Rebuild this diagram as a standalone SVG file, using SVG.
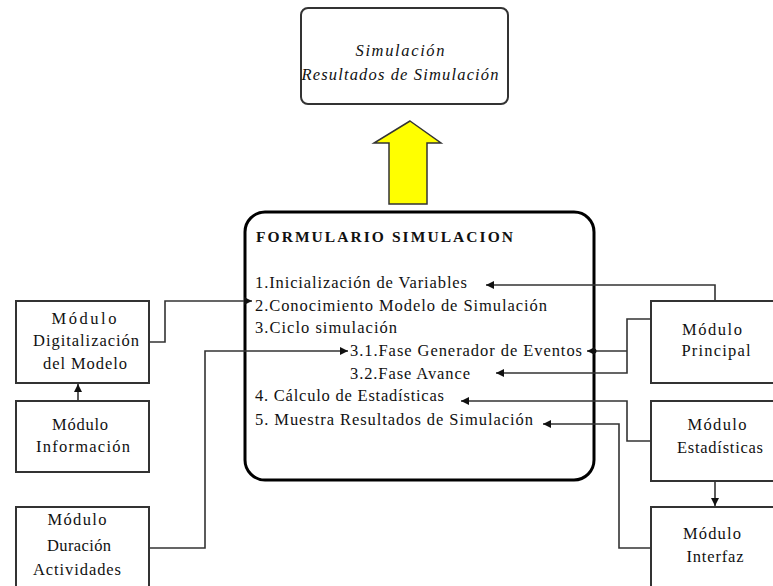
<svg xmlns="http://www.w3.org/2000/svg" width="773" height="586" viewBox="0 0 773 586">
<defs>
<style>
.box{fill:#fff;stroke:#333;stroke-width:2}
.t{font-family:"Liberation Serif","Times New Roman",serif;font-size:16.5px;fill:#111}
.m{text-anchor:middle}
.c{fill:none;stroke:#333;stroke-width:1.6}
</style>
<marker id="ah" viewBox="0 0 10 10" refX="10" refY="5" markerWidth="8" markerHeight="8" markerUnits="userSpaceOnUse" orient="auto">
<path d="M0,0 L10,5 L0,10 Z" fill="#111"/>
</marker>
</defs>
<rect width="773" height="586" fill="#fff"/>

<g id="resultados">
<rect x="301" y="8" width="207" height="96" rx="7" class="box"/>
<text class="t m" x="400" y="56" font-style="italic" textLength="89" lengthAdjust="spacing">Simulación</text>
<text class="t m" x="400" y="80" font-style="italic" textLength="197" lengthAdjust="spacing">Resultados de Simulación</text>
</g>

<g id="flecha">
<polygon points="410,121 441,143 427,143 427,204 389,204 389,143 374,143" fill="#ffff00" stroke="#333" stroke-width="1.5"/>
</g>

<g id="formulario">
<rect x="245" y="212" width="349" height="268" rx="20" fill="#fff" stroke="#000" stroke-width="3"/>
<text class="t" x="256" y="242" font-weight="bold" style="font-size:15.5px" textLength="257" lengthAdjust="spacing">FORMULARIO SIMULACION</text>
<text class="t" x="255" y="288" textLength="212" lengthAdjust="spacing">1.Inicialización de Variables</text>
<text class="t" x="255" y="311" textLength="292" lengthAdjust="spacing">2.Conocimiento Modelo de Simulación</text>
<text class="t" x="255" y="333" textLength="142" lengthAdjust="spacing">3.Ciclo simulación</text>
<text class="t" x="350" y="356" textLength="232" lengthAdjust="spacing">3.1.Fase Generador de Eventos</text>
<text class="t" x="350" y="379" textLength="120" lengthAdjust="spacing">3.2.Fase Avance</text>
<text class="t" x="255" y="401" textLength="189" lengthAdjust="spacing">4. Cálculo de Estadísticas</text>
<text class="t" x="255" y="425" textLength="278" lengthAdjust="spacing">5. Muestra Resultados de Simulación</text>
</g>

<g id="digitalizacion">
<rect x="16" y="301" width="133" height="82" class="box"/>
<text class="t m" x="84" y="324" textLength="65" lengthAdjust="spacing">Módulo</text>
<text class="t m" x="86" y="346" textLength="106" lengthAdjust="spacing">Digitalización</text>
<text class="t m" x="85" y="369" textLength="84" lengthAdjust="spacing">del Modelo</text>
</g>

<g id="informacion">
<rect x="16" y="401" width="133" height="71" class="box"/>
<text class="t m" x="80" y="430" textLength="56" lengthAdjust="spacing">Módulo</text>
<text class="t m" x="83" y="452" textLength="94" lengthAdjust="spacing">Información</text>
</g>

<g id="duracion">
<rect x="16" y="507" width="133" height="100" class="box"/>
<text class="t m" x="77" y="525" textLength="59" lengthAdjust="spacing">Módulo</text>
<text class="t m" x="79" y="551" textLength="64" lengthAdjust="spacing">Duración</text>
<text class="t m" x="77" y="575" textLength="88" lengthAdjust="spacing">Actividades</text>
</g>

<g id="principal">
<rect x="651" y="301" width="130" height="82" class="box"/>
<text class="t m" x="712" y="335" textLength="60" lengthAdjust="spacing">Módulo</text>
<text class="t m" x="716" y="356" textLength="69" lengthAdjust="spacing">Principal</text>
</g>

<g id="estadisticas">
<rect x="651" y="401" width="130" height="80" class="box"/>
<text class="t m" x="717" y="430" textLength="59" lengthAdjust="spacing">Módulo</text>
<text class="t m" x="720" y="453" textLength="86" lengthAdjust="spacing">Estadísticas</text>
</g>

<g id="interfaz">
<rect x="651" y="507" width="130" height="100" class="box"/>
<text class="t m" x="712" y="539" textLength="58" lengthAdjust="spacing">Módulo</text>
<text class="t m" x="715" y="562" textLength="57" lengthAdjust="spacing">Interfaz</text>
</g>

<g id="connectors">
<polyline class="c" points="149,342 165,342 165,301 252,301" marker-end="url(#ah)"/>
<polyline class="c" points="78,401 78,384" marker-end="url(#ah)"/>
<polyline class="c" points="149,548 205,548 205,351 348,351" marker-end="url(#ah)"/>
<polyline class="c" points="715,301 715,285 486,285" marker-end="url(#ah)"/>
<polyline class="c" points="651,319 627,319 627,373 496,373" marker-end="url(#ah)"/>
<polyline class="c" points="627,351 587,351" marker-end="url(#ah)"/>
<circle cx="594" cy="351" r="2.5" fill="#111"/>
<polyline class="c" points="651,441 627,441 627,401 461,401" marker-end="url(#ah)"/>
<polyline class="c" points="651,548 619,548 619,424 543,424" marker-end="url(#ah)"/>
<polyline class="c" points="715,481 715,506" marker-end="url(#ah)"/>
</g>
</svg>
